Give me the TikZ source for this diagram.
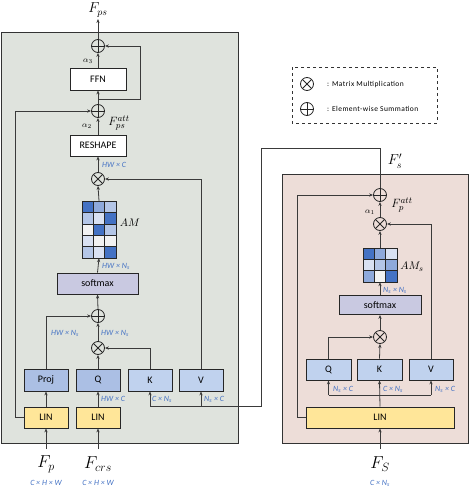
\documentclass[tikz,border=0pt]{standalone}
\usepackage{fontspec}
\setmainfont{Carlito}
\usetikzlibrary{arrows.meta}
\definecolor{panelL}{HTML}{DFE3DD}
\definecolor{panelR}{HTML}{EDDDD8}
\definecolor{linY}{HTML}{FFE699}
\definecolor{qD}{HTML}{ABBFE4}
\definecolor{kL}{HTML}{C0D2EE}
\definecolor{smx}{HTML}{C9C9E1}
\definecolor{mD}{HTML}{4472C4}
\definecolor{mM}{HTML}{8EA9DB}
\definecolor{mL}{HTML}{B4C6E7}
\definecolor{mV}{HTML}{D9E1F2}
\definecolor{mW}{HTML}{F2F2F2}
\definecolor{lblue}{HTML}{4472C4}
\definecolor{lin}{HTML}{3A3A3A}
\tikzset{
  boxn/.style={draw=black!85, line width=0.8pt, inner sep=0pt, font=\fontsize{10}{11}\selectfont, minimum height=21pt},
  opc/.style={circle, draw=black!85, line width=0.8pt, minimum size=13pt, inner sep=0pt},
  plusop/.style={opc, path picture={\draw[line width=0.8pt] (path picture bounding box.north)--(path picture bounding box.south) (path picture bounding box.west)--(path picture bounding box.east);}},
  multop/.style={opc, path picture={\draw[line width=0.8pt] (path picture bounding box.north west)--(path picture bounding box.south east) (path picture bounding box.south west)--(path picture bounding box.north east);}},
  conn/.style={draw=lin, line width=0.8pt},
  arr/.style={conn, -{Stealth[length=4pt,width=3.2pt]}},
  dimlbl/.style={text=lblue, font=\fontsize{8}{9}\selectfont\itshape, inner sep=0pt, anchor=west},
  mathlbl/.style={inner sep=0pt},
  cell/.style={draw=black!85, line width=0.6pt},
  legtext/.style={anchor=west, inner sep=0pt, font=\fontsize{7.5}{8}\selectfont\addfontfeatures{LetterSpace=6}},
}
\begin{document}
\begin{tikzpicture}[x=1pt,y=-1pt]
\useasboundingbox (0,0) rectangle (470,488);
% panels
\filldraw[fill=panelL, draw=black!80, line width=0.8pt] (1,32) rectangle (238,443);
\filldraw[fill=panelR, draw=black!80, line width=0.8pt] (282,174) rectangle (468,443);
% legend
\draw[dashed, line width=0.9pt, draw=black!80] (292,67) rectangle (437,123);
\node[multop] (lgm) at (307,84) {};
\node[plusop] (lgp) at (307,109) {};
\node[legtext] (lgmt) at (327,84) {: Matrix Multiplication};
\node[legtext] (lgpt) at (327,109) {: Element-wise Summation};

% ---------------- left block ----------------
\node[plusop] (pT) at (98,46) {};
\node[boxn, fill=white, minimum width=56pt, minimum height=22pt] (ffn) at (98,79) {FFN};
\node[plusop] (p2) at (98,111) {};
\node[boxn, fill=white, minimum width=56pt] (resh) at (98,145.5) {RESHAPE};
\node[multop] (mA) at (98,179) {};
\node[inner sep=0pt, minimum width=34pt, minimum height=57pt] (AM) at (99,229.5) {};
\node[boxn, fill=smx, minimum width=81pt] (smL) at (97.5,283.5) {softmax};
\node[plusop] (p3) at (98,316) {};
\node[multop] (m2) at (98,348) {};
\node[boxn, fill=qD, minimum width=44pt, minimum height=22pt] (proj) at (46,380) {Proj};
\node[boxn, fill=qD, minimum width=44pt, minimum height=22pt] (qL) at (98,380) {Q};
\node[boxn, fill=kL, minimum width=44pt, minimum height=22pt] (kL) at (150,380) {K};
\node[boxn, fill=kL, minimum width=44pt, minimum height=22pt] (vL) at (201,380) {V};
\node[boxn, fill=linY, minimum width=44pt] (lin1) at (46,417.5) {LIN};
\node[boxn, fill=linY, minimum width=44pt] (lin2) at (98,417.5) {LIN};

% matrix AM
\foreach \r/\c/\col in {0/0/mD,0/1/mM,0/2/mL, 1/0/mL,1/1/mV,1/2/mD, 2/0/mW,2/1/mD,2/2/mL, 3/0/mV,3/1/mW,3/2/mW, 4/0/mL,4/1/mV,4/2/mD}
  \filldraw[cell, fill=\col] ({82+\c*11.333},{201+\r*11.4}) rectangle ++(11.333,11.4);

% labels left
\node[mathlbl, font=\fontsize{14}{14}\selectfont] (Fps) at (98,10) {$F_{ps}$};
\coordinate (FpsEnd) at (98,19);
\node[mathlbl, font=\fontsize{8}{8}\selectfont] (a3) at (88,61) {$\alpha_3$};
\node[mathlbl, font=\fontsize{8}{8}\selectfont] (a2) at (87,126) {$\alpha_2$};
\node[mathlbl, font=\fontsize{13}{13}\selectfont] (Fpsatt) at (119,123) {$F_{ps}^{att}$};
\node[mathlbl, font=\fontsize{11}{11}\selectfont] (AMl) at (130,223) {$AM$};
\node[dimlbl] (d1) at (102,165) {HW × C};
\node[dimlbl] (d2) at (102,266) {HW × N\textsubscript{s}};
\node[dimlbl] (d3) at (51,333) {HW × N\textsubscript{s}};
\node[dimlbl] (d4) at (101,333) {HW × N\textsubscript{s}};
\node[dimlbl] (d5) at (101,399) {HW × C};
\node[dimlbl] (d6) at (152,399) {C × N\textsubscript{s}};
\node[dimlbl] (d7) at (204,399) {N\textsubscript{s} × C};
\node[mathlbl, font=\fontsize{17}{17}\selectfont] (Fp) at (46,464) {$F_p$};
\node[mathlbl, font=\fontsize{17}{17}\selectfont] (Fcrs) at (98,464) {$F_{crs}$};
\node[dimlbl, anchor=center] (d8) at (46,483) {C × H × W};
\node[dimlbl, anchor=center] (d9) at (98,483) {C × H × W};
\coordinate (FpS) at (46,449);
\coordinate (FcrsS) at (98,449);

% connectors left
\draw[arr] (pT.north) -- (FpsEnd);
\draw[arr] (ffn.north) -- (pT.south);
\draw[arr] (p2.north) -- (ffn.south);
\coordinate (fb) at (98,99);
\draw[arr] (fb) -- (140,99) -- (140,46) -- (pT.east);
\draw[arr] (resh.north) -- (p2.south);
\draw[arr] (lin1.west) -- (15,417.5) -- (15,111) -- (p2.west);
\draw[arr] (mA.north) -- (resh.south);
\draw[arr] (vL.north) -- (201,179) -- (mA.east);
\draw[arr] (AM.north) -- (mA.south);
\draw[arr] (smL.north) -- (AM.south);
\draw[arr] (p3.north) -- (smL.south);
\draw[arr] (proj.north) -- (46,316) -- (p3.west);
\draw[arr] (m2.north) -- (p3.south);
\draw[arr] (qL.north) -- (m2.south);
\draw[arr] (kL.north) -- (150,348) -- (m2.east);
\draw[arr] (lin1.north) -- (proj.south);
\draw[arr] (lin2.north) -- (qL.south);
\draw[arr] (FpS) -- (lin1.south);
\draw[arr] (FcrsS) -- (lin2.south);

% ---------------- right block ----------------
\node[plusop] (pR) at (380,195) {};
\node[multop] (mR) at (380,224) {};
\node[inner sep=0pt, minimum width=34pt, minimum height=34pt] (AMs) at (380,265) {};
\node[boxn, fill=smx, minimum width=82pt, minimum height=19pt] (smR) at (380,305) {softmax};
\node[multop] (m2R) at (380,337) {};
\node[boxn, fill=kL, minimum width=45pt] (qR) at (328.5,369.5) {Q};
\node[boxn, fill=kL, minimum width=45pt] (kR) at (379.5,369.5) {K};
\node[boxn, fill=kL, minimum width=44pt] (vR) at (431,369.5) {V};
\node[boxn, fill=linY, minimum width=148pt] (linR) at (380,417.5) {LIN};

\foreach \r/\c/\col in {0/0/mD,0/1/mM,0/2/mV, 1/0/mV,1/1/mL,1/2/mM, 2/0/mM,2/1/mW,2/2/mD}
  \filldraw[cell, fill=\col] ({363+\c*11.333},{248+\r*11.333}) rectangle ++(11.333,11.333);

\node[mathlbl, font=\fontsize{14}{14}\selectfont] (Fsp) at (395,161) {$F_s'$};
\node[mathlbl, font=\fontsize{8}{8}\selectfont] (a1) at (370,212) {$\alpha_1$};
\node[mathlbl, font=\fontsize{13}{13}\selectfont] (Fpatt) at (402,205) {$F_p^{att}$};
\node[mathlbl, font=\fontsize{11}{11}\selectfont] (AMsl) at (412,267) {$AM_s$};
\node[dimlbl] (e1) at (383,290) {N\textsubscript{s} × N\textsubscript{s}};
\node[dimlbl] (e2) at (333,389) {N\textsubscript{s} × C};
\node[dimlbl] (e3) at (383,389) {C × N\textsubscript{s}};
\node[dimlbl] (e4) at (435,389) {N\textsubscript{s} × C};
\node[mathlbl, font=\fontsize{17}{17}\selectfont] (FS) at (380,464) {$F_S$};
\node[dimlbl, anchor=center] (e5) at (380,483) {C × N\textsubscript{s}};
\coordinate (FSs) at (380,449);

\draw[arr] (mR.north) -- (pR.south);
\draw[arr] (AMs.north) -- (mR.south);
\draw[arr] (vR.north) -- (431,224) -- (mR.east);
\draw[arr] (linR.west) -- (297,417.5) -- (297,195) -- (pR.west);
\draw[arr] (smR.north) -- (AMs.south);
\draw[arr] (m2R.north) -- (smR.south);
\draw[arr] (kR.north) -- (m2R.south);
\draw[arr] (qR.north) -- (328.5,337) -- (m2R.west);
\draw[arr] (linR.north) -- (kR.south);
\draw[conn] (328.5,395) -- (431,395);
\draw[arr] (328.5,395) -- (qR.south);
\draw[arr] (431,395) -- (vR.south);
\draw[arr] (FSs) -- (linR.south);

% cross connection
\draw[conn] (pR.north) -- (380,148) -- (261,148) -- (261,406) -- (150,406);
\draw[arr] (150,406) -- (kL.south);
\draw[arr] (201,406) -- (vL.south);
\end{tikzpicture}
\end{document}
